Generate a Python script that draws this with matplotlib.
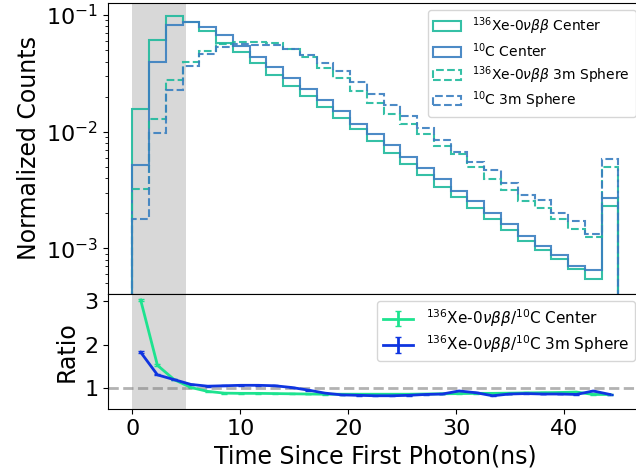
import numpy as np
import matplotlib
matplotlib.use("Agg")
import matplotlib.pyplot as plt

# 29 time bins between 0 and 45 ns
binEdges = np.linspace(0, 45, 30)
binCenters = 0.5 * (binEdges[1:] + binEdges[:-1])

xeCenter = [0.0158, 0.0612, 0.098, 0.0877, 0.073, 0.058, 0.0478, 0.0388, 0.0308, 0.0245,
            0.0201, 0.01626, 0.01303, 0.0105, 0.0083, 0.0066, 0.0053, 0.00423, 0.00336, 0.00275,
            0.00221, 0.00179, 0.00144, 0.00116, 0.00097, 0.00081, 0.00066, 0.00055, 0.00229]
cCenter = [0.00521, 0.0398, 0.0817, 0.0872, 0.0786, 0.0671, 0.0548, 0.0437, 0.0357, 0.0287,
           0.0233, 0.0188, 0.0151, 0.0117, 0.0096, 0.0077, 0.0061, 0.0049, 0.00394, 0.00313,
           0.00253, 0.0020, 0.00161, 0.00128, 0.00105, 0.00087, 0.00070, 0.00065, 0.00271]
xeSphere = [0.00324, 0.01294, 0.028, 0.0395, 0.0488, 0.0564, 0.0585, 0.0585, 0.0574, 0.051,
            0.0436, 0.0352, 0.0287, 0.0222, 0.0178, 0.0143, 0.0116, 0.0095, 0.00753, 0.00638,
            0.005, 0.00397, 0.00318, 0.00256, 0.00221, 0.00177, 0.00146, 0.00126, 0.00499]
cSphere = [0.00177, 0.00984, 0.023, 0.0363, 0.0466, 0.0537, 0.0563, 0.0555, 0.0555, 0.0514,
           0.0457, 0.0388, 0.0329, 0.0265, 0.021, 0.017, 0.0136, 0.0107, 0.0085, 0.00674,
           0.00552, 0.00474, 0.00364, 0.00288, 0.00261, 0.0020, 0.0017, 0.00134, 0.00583]

ratioCenter = [3.03, 1.53, 1.2, 1.02, 0.93, 0.89, 0.885, 0.885, 0.88, 0.875,
               0.87, 0.865, 0.865, 0.865, 0.865, 0.865, 0.865, 0.87, 0.875, 0.88,
               0.885, 0.885, 0.89, 0.895, 0.9, 0.905, 0.915, 0.86, 0.86]
ratioCenterErr = [0.03, 0.02, 0.01, 0.01, 0.01, 0.01, 0.01, 0.01, 0.01, 0.01,
                  0.01, 0.01, 0.01, 0.01, 0.01, 0.01, 0.01, 0.01, 0.01, 0.01,
                  0.01, 0.01, 0.01, 0.01, 0.01, 0.01, 0.01, 0.01, 0.01]
ratioSphere = [1.83, 1.31, 1.2, 1.09, 1.05, 1.06, 1.07, 1.07, 1.06, 1.02,
               0.96, 0.89, 0.85, 0.84, 0.83, 0.83, 0.84, 0.86, 0.87, 0.94,
               0.9, 0.83, 0.87, 0.88, 0.87, 0.87, 0.86, 0.94, 0.86]
ratioSphereErr = [0.02, 0.01, 0.01, 0.01, 0.01, 0.01, 0.01, 0.01, 0.01, 0.01,
                  0.01, 0.01, 0.01, 0.01, 0.01, 0.01, 0.01, 0.01, 0.01, 0.01,
                  0.01, 0.01, 0.01, 0.01, 0.01, 0.01, 0.01, 0.01, 0.01]

xeLabel = r"$^{136}$Xe-0$\nu\beta\beta$"
cLabel = r"$^{10}$C"
greenHist = "#1fb99c"
blueHist = "#3a7fc0"

plt.rcParams["font.size"] = 16
plt.rcParams["axes.labelsize"] = 17

fig = plt.figure(figsize=(6.36, 4.75), dpi=100)
ax = fig.add_axes([0.1698, 0.3821, 0.8406, 0.6116])
axRatio = fig.add_axes([0.1698, 0.1389, 0.8406, 0.2432], sharex=ax)

ax.hist(binCenters, bins=binEdges, weights=xeCenter, histtype="step", log=True,
        color=greenHist, lw=1.5, alpha=0.9, label=xeLabel + " Center")
ax.hist(binCenters, bins=binEdges, weights=cCenter, histtype="step", log=True,
        color=blueHist, lw=1.5, alpha=0.9, label=cLabel + " Center")
ax.hist(binCenters, bins=binEdges, weights=xeSphere, histtype="step", log=True,
        color=greenHist, lw=1.5, ls="--", alpha=0.9, label=xeLabel + " 3m Sphere")
ax.hist(binCenters, bins=binEdges, weights=cSphere, histtype="step", log=True,
        color=blueHist, lw=1.5, ls="--", alpha=0.9, label=cLabel + " 3m Sphere")
ax.axvspan(0, 5, color="gray", alpha=0.3, lw=0)
ax.set_ylim(4.1e-4, 0.127)
ax.set_xlim(-2.25, 47.25)
ax.set_ylabel("Normalized Counts")
ax.tick_params(axis="x", bottom=False, labelbottom=False)
ax.legend(loc="upper right", fontsize=10, labelspacing=0.3)

axRatio.errorbar(binCenters, ratioCenter, yerr=ratioCenterErr, color="#1de38f", lw=2,
                 capsize=2, label=xeLabel + "/" + cLabel + " Center")
axRatio.errorbar(binCenters, ratioSphere, yerr=ratioSphereErr, color="#0f35e0", lw=2,
                 capsize=2, label=xeLabel + "/" + cLabel + " 3m Sphere")
axRatio.axhline(1, color="gray", ls="--", lw=2, alpha=0.6)
axRatio.axvspan(0, 5, color="gray", alpha=0.3, lw=0)
axRatio.set_ylim(0.525, 3.18)
axRatio.set_yticks([1, 2, 3])
axRatio.set_ylabel("Ratio")
axRatio.set_xlabel("Time Since First Photon(ns)")
axRatio.legend(loc="upper right", fontsize=11, labelspacing=0.3)

plt.savefig("out.png")
